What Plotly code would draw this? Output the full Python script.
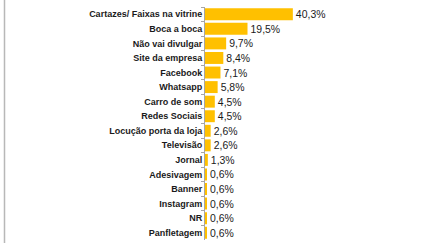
import plotly.graph_objects as go

categories = ["Cartazes/ Faixas na vitrine", "Boca a boca", "Não vai divulgar", "Site da empresa",
              "Facebook", "Whatsapp", "Carro de som", "Redes Sociais", "Locução porta da loja",
              "Televisão", "Jornal", "Adesivagem", "Banner", "Instagram", "NR", "Panfletagem"]
values = [40.3, 19.5, 9.7, 8.4, 7.1, 5.8, 4.5, 4.5, 2.6, 2.6, 1.3, 0.6, 0.6, 0.6, 0.6, 0.6]

fig = go.Figure(go.Bar(
    x=values, y=categories, orientation="h",
    marker=dict(color="#FFC000", line=dict(width=0)),
    texttemplate="%{x:.1f}%", textposition="outside",
    textfont=dict(family="Liberation Sans", size=10.5, color="#1a1a1a"),
    cliponaxis=False, width=0.82,
))

fig.update_layout(
    width=430, height=243,
    margin=dict(l=205, r=7, t=7, b=3),
    paper_bgcolor="white", plot_bgcolor="white",
    separators=",.",
    showlegend=False,
    font=dict(family="Liberation Sans", color="#1a1a1a"),
    xaxis=dict(range=[0, 100], visible=False, fixedrange=True),
    yaxis=dict(autorange="reversed", type="category",
               showline=True, linecolor="#a6a6a6", linewidth=1,
               ticks="outside", tickson="boundaries", ticklen=3, tickcolor="#a6a6a6",
               tickfont=dict(family="Liberation Sans", size=9, color="#1a1a1a", weight="bold"),
               showgrid=False),
    shapes=[dict(type="line", xref="paper", yref="paper", layer="above",
                 x0=-200.5/218, x1=-200.5/218, y0=-0.05, y1=1.05,
                 line=dict(color="#b8b8b8", width=1.5))],
)

fig.write_html("out.html", config={"displayModeBar": False},
               post_script="document.body.style.margin='0';")
